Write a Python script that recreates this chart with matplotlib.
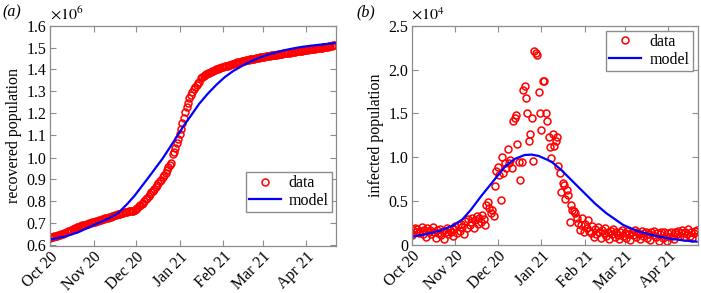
import datetime as dt
import matplotlib
matplotlib.use("Agg")
import matplotlib.pyplot as plt
import matplotlib.dates as mdates
from matplotlib.ticker import FuncFormatter, MultipleLocator

plt.rcParams['font.family'] = ['Liberation Serif', 'DejaVu Serif']
plt.rcParams['mathtext.fontset'] = 'stix'

start = dt.date(2020, 10, 1)

# (a) recovered population, x10^6, one value per day from 1 Oct 2020
recovered = [
    0.635, 0.637, 0.639, 0.641, 0.643, 0.645, 0.647, 0.649, 0.651, 0.653,
    0.655, 0.658, 0.661, 0.664, 0.667, 0.671, 0.674, 0.677, 0.680, 0.683,
    0.685, 0.687, 0.689, 0.691, 0.693, 0.695, 0.697, 0.699, 0.701, 0.703,
    0.705, 0.707, 0.709, 0.711, 0.713, 0.715, 0.717, 0.719, 0.721, 0.723,
    0.725, 0.727, 0.729, 0.731, 0.733, 0.735, 0.737, 0.739, 0.741, 0.743,
    0.745, 0.747, 0.749, 0.751, 0.753, 0.754, 0.755, 0.756, 0.757, 0.758,
    0.760, 0.765, 0.772, 0.778, 0.783, 0.789, 0.795, 0.802, 0.810, 0.818,
    0.826, 0.834, 0.842, 0.850, 0.858, 0.866, 0.874, 0.882, 0.891, 0.900,
    0.910, 0.920, 0.930, 0.942, 0.955, 0.968, 0.975, 1.015, 1.025, 1.045,
    1.065, 1.085, 1.105, 1.130, 1.155, 1.180, 1.205, 1.230, 1.250, 1.270,
    1.285, 1.300, 1.312, 1.322, 1.330, 1.337, 1.343, 1.360, 1.365, 1.370,
    1.374, 1.378, 1.382, 1.386, 1.389, 1.392, 1.395, 1.398, 1.401, 1.404,
    1.406, 1.408, 1.410, 1.412, 1.414, 1.416, 1.418, 1.420, 1.422, 1.424,
    1.426, 1.428, 1.430, 1.432, 1.434, 1.436, 1.437, 1.439, 1.440, 1.442,
    1.443, 1.445, 1.446, 1.448, 1.449, 1.450, 1.452, 1.453, 1.454, 1.455,
    1.457, 1.458, 1.459, 1.460, 1.461, 1.462, 1.463, 1.464, 1.465, 1.466,
    1.467, 1.468, 1.469, 1.470, 1.471, 1.472, 1.473, 1.474, 1.475, 1.476,
    1.477, 1.478, 1.479, 1.480, 1.481, 1.482, 1.483, 1.484, 1.485, 1.486,
    1.487, 1.488, 1.489, 1.490, 1.491, 1.492, 1.493, 1.494, 1.495, 1.496,
    1.497, 1.498, 1.499, 1.500, 1.501, 1.502, 1.503, 1.504, 1.505, 1.506,
    1.508, 1.510, 1.512,
]
recovered_model_days = [0, 10, 20, 30, 40, 48, 55, 60, 65, 70, 75, 80, 85, 90, 95,
                        100, 106, 112, 118, 124, 130, 136, 142, 148, 154, 160,
                        166, 172, 178, 185, 192, 202]
recovered_model = [0.627, 0.640, 0.660, 0.690, 0.718, 0.745, 0.790, 0.826, 0.868,
                   0.910, 0.953, 0.996, 1.045, 1.095, 1.145, 1.190, 1.245, 1.290,
                   1.330, 1.365, 1.393, 1.415, 1.435, 1.452, 1.466, 1.477, 1.487,
                   1.495, 1.502, 1.508, 1.513, 1.520]

# (b) infected population, x10^4, one value per day from 1 Oct 2020
infected = [
    0.11, 0.17, 0.19, 0.15, 0.18, 0.13, 0.16, 0.20, 0.12, 0.17,
    0.09, 0.19, 0.14, 0.17, 0.12, 0.20, 0.15, 0.08, 0.17, 0.13,
    0.18, 0.11, 0.16, 0.07, 0.15, 0.19, 0.12, 0.17, 0.14, 0.10,
    0.18, 0.21, 0.13, 0.22, 0.16, 0.24, 0.20, 0.12, 0.27, 0.19,
    0.29, 0.22, 0.26, 0.31, 0.19, 0.28, 0.33, 0.24, 0.30, 0.26,
    0.34, 0.29, 0.23, 0.45, 0.49, 0.42, 0.36, 0.40, 0.33, 0.67,
    0.84, 0.89, 0.80, 0.51, 1.00, 0.82, 0.93, 0.88, 1.095, 0.93,
    0.97, 0.88, 1.41, 1.45, 1.48, 1.15, 0.95, 0.74, 0.95, 1.77,
    1.81, 1.675, 1.51, 1.19, 1.27, 1.45, 0.96, 2.21, 2.19, 2.17,
    1.75, 1.51, 1.31, 1.87, 1.87, 1.50, 1.41, 1.23, 1.12, 0.99,
    1.27, 1.13, 1.19, 1.23, 0.90, 0.82, 0.60, 0.70, 0.68, 0.52,
    0.63, 0.57, 0.26, 0.45, 0.40, 0.38, 0.36, 0.30, 0.25, 0.17,
    0.22, 0.30, 0.14, 0.24, 0.19, 0.28, 0.16, 0.13, 0.21, 0.09,
    0.18, 0.12, 0.20, 0.15, 0.08, 0.17, 0.13, 0.19, 0.10, 0.14,
    0.07, 0.16, 0.12, 0.18, 0.09, 0.15, 0.11, 0.06, 0.14, 0.17,
    0.10, 0.13, 0.08, 0.16, 0.12, 0.05, 0.15, 0.11, 0.17, 0.09,
    0.14, 0.12, 0.06, 0.16, 0.10, 0.13, 0.15, 0.08, 0.12, 0.05,
    0.14, 0.11, 0.16, 0.09, 0.13, 0.04, 0.12, 0.15, 0.08, 0.14,
    0.10, 0.04, 0.13, 0.09, 0.15, 0.11, 0.07, 0.14, 0.12, 0.16,
    0.10, 0.13, 0.17, 0.09, 0.15, 0.12, 0.18, 0.10, 0.14, 0.08,
    0.13, 0.16, 0.17,
]
infected_model_days = [0, 10, 20, 30, 36, 42, 49, 55, 60, 66, 73, 80, 85, 90, 99,
                       106, 115, 125, 130, 138, 150, 161, 173, 185, 195, 202]
infected_model = [0.09, 0.12, 0.16, 0.225, 0.29, 0.40, 0.55, 0.67, 0.77, 0.89, 0.98,
                  1.025, 1.03, 1.015, 0.95, 0.855, 0.71, 0.55, 0.47, 0.36, 0.225,
                  0.15, 0.10, 0.065, 0.045, 0.035]


def to_dates(days):
    return [start + dt.timedelta(days=d) for d in days]


fig = plt.figure(figsize=(7.01, 2.93), dpi=100)
ax1 = fig.add_axes([50 / 701, 1 - 245.5 / 293, 286 / 701, 220 / 293])
ax2 = fig.add_axes([411.7 / 701, 1 - 244.7 / 293, 286.3 / 701, 218.7 / 293])

red = (1, 0, 0)
blue = (0, 0, 1)
grey = '#8c8c8c'

ax1.plot(to_dates(range(len(recovered))), recovered, 'o', mfc='none', mec=red,
         ms=5, mew=1.1, label='data')
ax1.plot(to_dates(recovered_model_days), recovered_model, '-', color=blue, lw=1.6,
         label='model')
ax2.plot(to_dates(range(len(infected))), infected, 'o', mfc='none', mec=red,
         ms=5, mew=1.1, label='data')
ax2.plot(to_dates(infected_model_days), infected_model, '-', color=blue, lw=1.6,
         label='model')

legend_anchor = {ax1: (0.986, 0.333), ax2: (0.981, 0.978)}
for ax in (ax1, ax2):
    ax.set_xlim(start, start + dt.timedelta(days=203))
    ax.xaxis.set_major_locator(mdates.MonthLocator())
    ax.xaxis.set_major_formatter(mdates.DateFormatter('%b %y'))
    for lab in ax.get_xticklabels():
        lab.set_rotation(45)
        lab.set_ha('right')
        lab.set_rotation_mode('anchor')
    ax.tick_params(direction='in', top=True, right=True, length=4, width=0.8,
                   color=grey, labelsize=11.5, pad=2.5)
    for sp in ax.spines.values():
        sp.set_color(grey)
        sp.set_linewidth(0.9)
    ax.legend(loc='upper right', bbox_to_anchor=legend_anchor[ax], fontsize=11.5,
              fancybox=False, edgecolor=grey, framealpha=1, borderaxespad=0,
              handlelength=2.0, handletextpad=0.5, borderpad=0.2, labelspacing=0.1)

ax1.set_ylim(0.6, 1.6)
ax1.yaxis.set_major_locator(MultipleLocator(0.1))
ax1.yaxis.set_major_formatter(FuncFormatter(lambda v, p: '%.1f' % v))
ax1.set_ylabel('recovered population', fontsize=11.5, labelpad=3)

ax2.set_ylim(0, 2.5)
ax2.yaxis.set_major_locator(MultipleLocator(0.5))
ax2.yaxis.set_major_formatter(FuncFormatter(lambda v, p: '0' if v == 0 else '%.1f' % v))
ax2.set_ylabel('infected population', fontsize=11.5, labelpad=3)

fig.text(50 / 701, 1 - 15 / 293, r'$\times10^{6}$', fontsize=11.5, va='center')
fig.text(411 / 701, 1 - 15 / 293, r'$\times10^{4}$', fontsize=11.5, va='center')
fig.text(2 / 701, 1 - 12 / 293, '(a)', fontsize=11.5, style='italic', va='center')
fig.text(356 / 701, 1 - 12 / 293, '(b)', fontsize=11.5, style='italic', va='center')

fig.savefig('out.png', dpi=100)
